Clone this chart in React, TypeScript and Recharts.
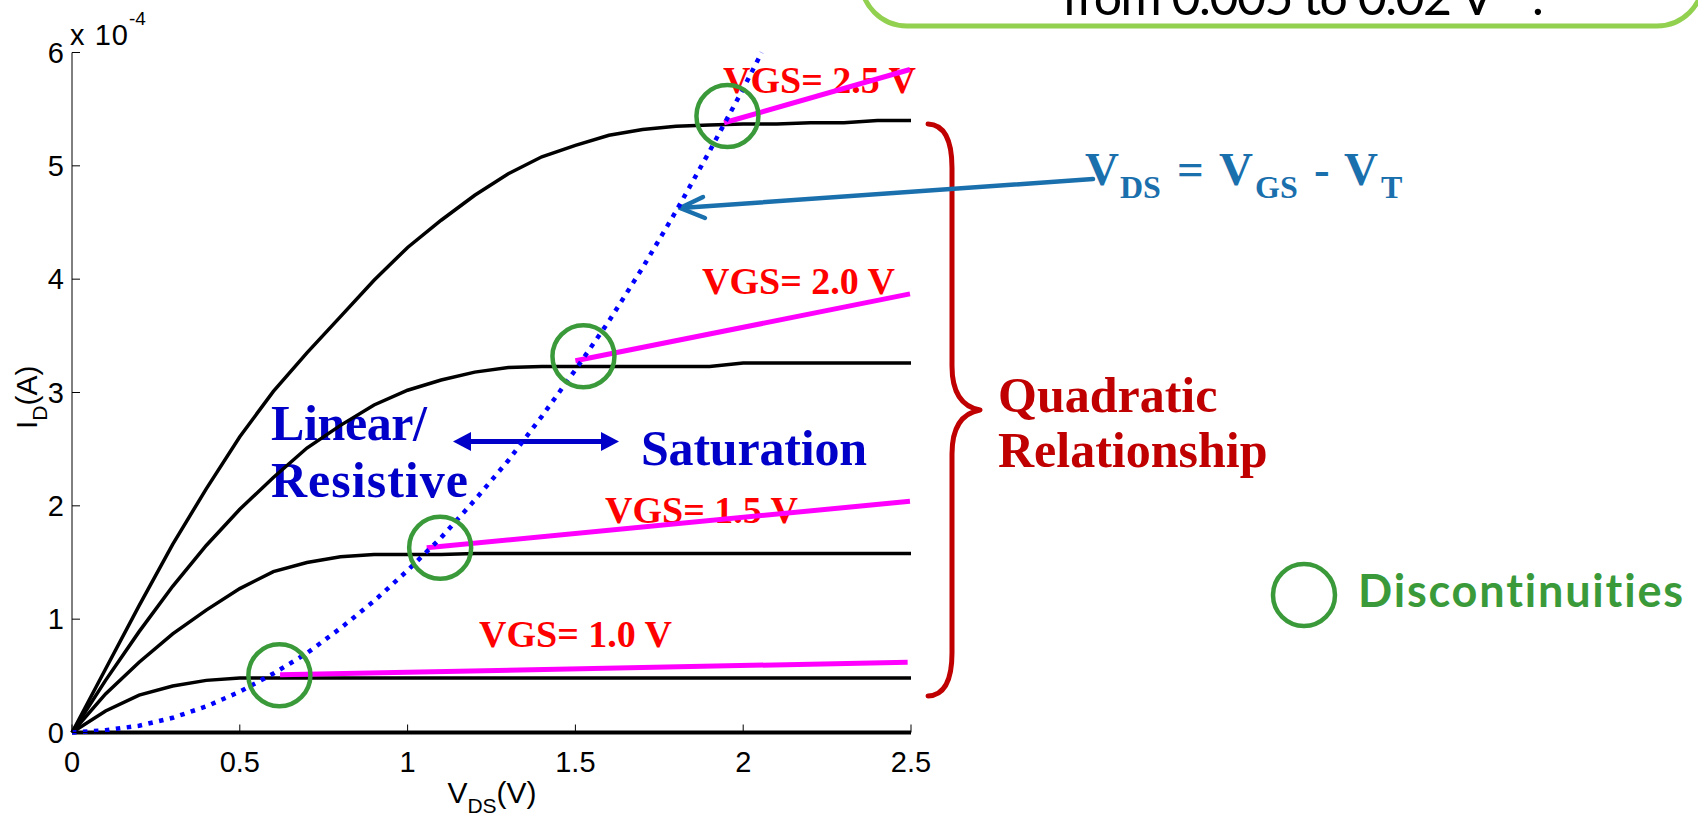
import React from 'react';
import { ComposedChart, Line, XAxis, YAxis, ReferenceDot } from 'recharts';

// ---- data (I_D in units of 1e-4 A, V_DS in V) ----
const vdsGrid = [0, 0.1, 0.2, 0.3, 0.4, 0.5, 0.6, 0.7, 0.8, 0.9, 1.0, 1.1, 1.2, 1.3, 1.4, 1.5, 1.6, 1.7, 1.8, 1.9, 2.0, 2.1, 2.2, 2.3, 2.4, 2.5];
const idVgs25 = [0, 0.56, 1.12, 1.66, 2.15, 2.61, 3.01, 3.35, 3.67, 3.99, 4.28, 4.52, 4.74, 4.93, 5.08, 5.18, 5.27, 5.32, 5.35, 5.36, 5.37, 5.37, 5.38, 5.38, 5.4, 5.4];
const idVgs20 = [0, 0.46, 0.89, 1.29, 1.65, 1.97, 2.25, 2.51, 2.71, 2.89, 3.02, 3.11, 3.18, 3.22, 3.23, 3.23, 3.23, 3.23, 3.23, 3.23, 3.26, 3.26, 3.26, 3.26, 3.26, 3.26];
const idVgs15 = [0, 0.34, 0.62, 0.87, 1.08, 1.27, 1.42, 1.5, 1.55, 1.57, 1.57, 1.57, 1.58, 1.58, 1.58, 1.58, 1.58, 1.58, 1.58, 1.58, 1.58, 1.58, 1.58, 1.58, 1.58, 1.58];
const idVgs10 = [0, 0.19, 0.33, 0.41, 0.46, 0.48, 0.48, 0.48, 0.48, 0.48, 0.48, 0.48, 0.48, 0.48, 0.48, 0.48, 0.48, 0.48, 0.48, 0.48, 0.48, 0.48, 0.48, 0.48, 0.48, 0.48];
const vdsOff = [0, 2.5];
const idOff = [0, 0];

const vdsBoundary = [0, 0.1, 0.2, 0.3, 0.4, 0.5, 0.6, 0.7, 0.8, 0.9, 1.0, 1.1, 1.2, 1.3, 1.4, 1.5, 1.6, 1.7, 1.8, 1.9, 2.0, 2.055];
const idBoundary = [0, 0.02, 0.06, 0.13, 0.23, 0.36, 0.52, 0.7, 0.92, 1.16, 1.43, 1.72, 2.05, 2.4, 2.79, 3.2, 3.63, 4.1, 4.6, 5.13, 5.68, 6.0];

const clmVgs10X = [0.62, 2.49];
const clmVgs10Y = [0.51, 0.62];
const clmVgs15X = [1.057, 2.497];
const clmVgs15Y = [1.63, 2.04];
const clmVgs20X = [1.5, 2.497];
const clmVgs20Y = [3.28, 3.87];
const clmVgs25X = [1.943, 2.497];
const clmVgs25Y = [5.38, 5.85];

const circleV = [0.618, 1.097, 1.524, 1.953];
const circleI = [0.505, 1.63, 3.32, 5.44];

const xTicks = [0, 0.5, 1, 1.5, 2, 2.5];
const yTicks = [0, 1, 2, 3, 4, 5, 6];
const vgsLabels = ['VGS= 2.5 V', 'VGS= 2.0 V', 'VGS= 1.5 V', 'VGS= 1.0 V'];

const zip = (xs: number[], ys: number[]) => xs.map((v, k) => ({ v, i: ys[k] }));

const W = 1698;
const H = 819;
const serif = '"Liberation Serif", "Times New Roman", serif';
const sans = '"Liberation Sans", Arial, sans-serif';
const calibri = 'Lato, "Open Sans", sans-serif';
const green = '#3a9a3a';
const darkBlue = '#0000c8';
const steel = '#1a6fad';
const darkRed = '#c00000';
const noLig = { fontVariantLigatures: 'none' as const };

const black = { stroke: '#000', strokeWidth: 3.5, dot: false, isAnimationActive: false, type: 'linear' as const };
const magenta = { stroke: '#ff00ff', strokeWidth: 5, dot: false, isAnimationActive: false, type: 'linear' as const };

export default function App() {
  const tickStyle = { fontSize: 29, fill: '#000', fontFamily: sans };
  return (
    <div style={{ position: 'absolute', left: 0, top: 0, width: W, height: H, background: '#fff', overflow: 'hidden' }}>
      {/* underlay annotations */}
      <svg width={W} height={H} style={{ position: 'absolute', left: 0, top: 0 }}>
        {/* top box */}
        <rect x={861} y={-120} width={842} height={146} rx={46} ry={46} fill="none" stroke="#92d050" strokeWidth={5} />
        <text x={1062} y={15} fontFamily={calibri} fontSize={50} fill="#000" textLength={432} lengthAdjust="spacing" style={noLig}>
          from 0.005 to 0.02 V
        </text>
        <text x={1497} y={-12} fontFamily={calibri} fontSize={32} fill="#000">−1</text>
        <text x={1532} y={15} fontFamily={calibri} fontSize={50} fill="#000">.</text>

        {/* red VGS labels */}
        <text x={723} y={92.5} fontFamily={serif} fontWeight="bold" fontSize={38} fill="#ff0000">{vgsLabels[0]}</text>
        <text x={702} y={294} fontFamily={serif} fontWeight="bold" fontSize={38} fill="#ff0000">{vgsLabels[1]}</text>
        <text x={605} y={523} fontFamily={serif} fontWeight="bold" fontSize={38} fill="#ff0000">{vgsLabels[2]}</text>
        <text x={479} y={647} fontFamily={serif} fontWeight="bold" fontSize={38} fill="#ff0000">{vgsLabels[3]}</text>

        {/* region labels */}
        <text x={271} y={440} fontFamily={serif} fontWeight="bold" fontSize={50} fill={darkBlue} textLength={156} lengthAdjust="spacing">Linear/</text>
        <text x={271} y={497} fontFamily={serif} fontWeight="bold" fontSize={50} fill={darkBlue} textLength={197} lengthAdjust="spacing">Resistive</text>
        <text x={641} y={465} fontFamily={serif} fontWeight="bold" fontSize={50} fill={darkBlue} textLength={226} lengthAdjust="spacing">Saturation</text>
        <line x1={466} y1={441.5} x2={606} y2={441.5} stroke={darkBlue} strokeWidth={5} />
        <polygon points="453,441.5 471,432 471,451" fill={darkBlue} />
        <polygon points="619,441.5 601,432 601,451" fill={darkBlue} />

        {/* brace + quadratic */}
        <path d="M928,124 Q952,125 952,168 L952,366 Q952,405 980,410 Q952,415 952,454 L952,653 Q952,695 928,696"
          fill="none" stroke={darkRed} strokeWidth={5} strokeLinecap="round" strokeLinejoin="round" />
        <text x={998} y={412} fontFamily={serif} fontWeight="bold" fontSize={50} fill={darkRed}>Quadratic</text>
        <text x={998} y={467} fontFamily={serif} fontWeight="bold" fontSize={50} fill={darkRed}>Relationship</text>

        {/* VDS = VGS - VT */}
        <line x1={1093} y1={179} x2={681} y2={208} stroke={steel} strokeWidth={4.5} strokeLinecap="round" />
        <polyline points="703,197 680,208 705,218" fill="none" stroke={steel} strokeWidth={4.5} strokeLinecap="round" strokeLinejoin="round" />
        <text fontFamily={serif} fontWeight="bold" fontSize={47} fill={steel}>
          <tspan x={1085} y={185}>V</tspan>
          <tspan x={1120} y={198} fontSize={32}>DS</tspan>
          <tspan x={1177} y={185}>=</tspan>
          <tspan x={1219} y={185}>V</tspan>
          <tspan x={1255} y={198} fontSize={32}>GS</tspan>
          <tspan x={1314} y={185}>-</tspan>
          <tspan x={1344} y={185}>V</tspan>
          <tspan x={1381} y={198} fontSize={32}>T</tspan>
        </text>

        {/* legend */}
        <circle cx={1304} cy={595} r={31} fill="none" stroke={green} strokeWidth={4.5} />
        <text x={1358} y={607} fontFamily={calibri} fontWeight="bold" fontSize={45} fill={green} textLength={325} lengthAdjust="spacing" style={noLig}>Discontinuities</text>

        {/* axis labels */}
        <text x={70} y={45} fontFamily={sans} fontSize={29} fill="#000" textLength={58} lengthAdjust="spacing">x 10</text>
        <text x={129} y={25} fontFamily={sans} fontSize={19} fill="#000">-4</text>
        <text x={492} y={803} fontFamily={sans} fontSize={30} fill="#000" textAnchor="middle">
          V<tspan fontSize={21} dy={10}>DS</tspan><tspan dy={-10}>(V)</tspan>
        </text>
        <text transform="rotate(-90)" x={-429} y={37} fontFamily={sans} fontSize={30} fill="#000">
          I<tspan fontSize={21} dy={10}>D</tspan><tspan dy={-10}>(A)</tspan>
        </text>
      </svg>

      <div style={{ position: 'absolute', left: 0, top: 0 }}>
        <ComposedChart width={W} height={H} margin={{ top: 52.5, right: 787, bottom: 26.5, left: 8 }}>
          <XAxis xAxisId={0} dataKey="v" type="number" domain={[0, 2.5]} ticks={xTicks} height={60}
            tickSize={-8} tickMargin={26.5} tick={tickStyle} axisLine={{ stroke: '#000', strokeWidth: 1 }}
            tickLine={{ stroke: '#000', strokeWidth: 1 }} interval={0} />
          <XAxis xAxisId="top" orientation="top" dataKey="v" type="number" domain={[0, 2.5]} ticks={xTicks} height={0}
            tickSize={-8} tick={false} axisLine={{ stroke: '#000', strokeWidth: 1 }} tickLine={{ stroke: '#000', strokeWidth: 1 }} interval={0} />
          <YAxis yAxisId={0} type="number" domain={[0, 6]} ticks={yTicks} width={64}
            tickSize={-8} tickMargin={16} tick={tickStyle} axisLine={{ stroke: '#000', strokeWidth: 1 }}
            tickLine={{ stroke: '#000', strokeWidth: 1 }} interval={0} />
          <YAxis yAxisId="right" orientation="right" type="number" domain={[0, 6]} ticks={yTicks} width={0}
            tickSize={-8} tick={false} axisLine={{ stroke: '#000', strokeWidth: 1 }} tickLine={{ stroke: '#000', strokeWidth: 1 }} interval={0} />

          <Line data={zip(vdsOff, idOff)} dataKey="i" {...black} strokeWidth={4} />
          <Line data={zip(vdsGrid, idVgs10)} dataKey="i" {...black} />
          <Line data={zip(vdsGrid, idVgs15)} dataKey="i" {...black} />
          <Line data={zip(vdsGrid, idVgs20)} dataKey="i" {...black} />
          <Line data={zip(vdsGrid, idVgs25)} dataKey="i" {...black} />

          <Line data={zip(clmVgs10X, clmVgs10Y)} dataKey="i" {...magenta} />
          <Line data={zip(clmVgs15X, clmVgs15Y)} dataKey="i" {...magenta} />
          <Line data={zip(clmVgs20X, clmVgs20Y)} dataKey="i" {...magenta} />
          <Line data={zip(clmVgs25X, clmVgs25Y)} dataKey="i" {...magenta} />

          <Line data={zip(vdsBoundary, idBoundary)} dataKey="i" stroke="#0000ff" strokeWidth={4.5}
            strokeDasharray="4.5 6.5" dot={false} isAnimationActive={false} type="linear" />

          {circleV.map((v, k) => (
            <ReferenceDot key={k} x={v} y={circleI[k]} r={31} fill="none" stroke={green} strokeWidth={4.5} ifOverflow="visible" />
          ))}
        </ComposedChart>
      </div>
    </div>
  );
}
